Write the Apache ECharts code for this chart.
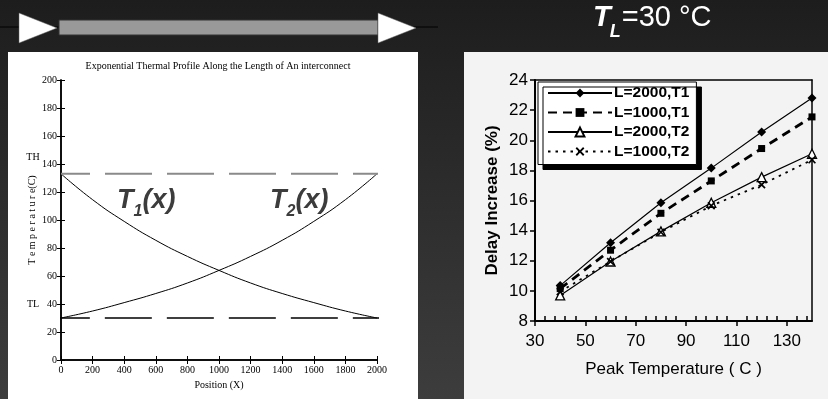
<!DOCTYPE html>
<html>
<head>
<meta charset="utf-8">
<script src="https://cdn.jsdelivr.net/npm/echarts@6/dist/echarts.min.js"></script>
<style>
  html, body { margin: 0; padding: 0; background: #222; }
  #chart { width: 828px; height: 399px; }
</style>
</head>
<body>
<div id="chart"></div>
<script>
// left panel: thermal profile along the wire
const positions = [0, 200, 400, 600, 800, 1000, 1200, 1400, 1600, 1800, 2000];
const t1Profile = [133, 114.5, 99, 85.5, 74, 64, 55, 47.5, 41, 35, 30];
const t2Profile = [30, 35, 41, 47.5, 55, 64, 74, 85.5, 99, 114.5, 133];
const thLevel = 133;
const tlLevel = 30;
const thSpan = [0, 2125];
const tlSpan = [-115, 2125];

// right panel: delay increase vs peak temperature
const peakTemps = [40, 60, 80, 100, 120, 140];
const l2000T1 = [10.35, 13.2, 15.85, 18.15, 20.55, 22.8];
const l1000T1 = [10.15, 12.7, 15.15, 17.3, 19.45, 21.55];
const l2000T2 = [9.7, 11.95, 13.95, 15.85, 17.55, 19.1];
const l1000T2 = [9.95, 11.95, 13.9, 15.65, 17.05, 18.7];
const seriesNames = ['L=2000,T1', 'L=1000,T1', 'L=2000,T2', 'L=1000,T2'];

const chart = echarts.init(document.getElementById('chart'));

function pairs(xs, ys) {
  return xs.map((x, i) => [x, ys[i]]);
}

const serif = '"Liberation Serif", "DejaVu Serif", serif';
const sans = '"Liberation Sans", Arial, sans-serif';
const xMark = 'path://M0,1.5L1.5,0L5,3.5L8.5,0L10,1.5L6.5,5L10,8.5L8.5,10L5,6.5L1.5,10L0,8.5L3.5,5Z';

const leftAxisCommon = {
  type: 'value',
  axisLine: { show: true, lineStyle: { color: '#000', width: 1.5 } },
  splitLine: { show: false },
  axisTick: { show: true, inside: true, length: 4, lineStyle: { color: '#000' } }
};

const bigItalic = { fontFamily: sans, fontSize: 27, fontStyle: 'italic', fontWeight: 'bold', fill: '#3c3c3c', lineHeight: 30 };
const subItalic = { fontFamily: sans, fontSize: 16, fontStyle: 'italic', fontWeight: 'bold', fill: '#3c3c3c', lineHeight: 16, verticalAlign: 'bottom', padding: [0, 0, -4, 0] };

chart.setOption({
  animation: false,
  backgroundColor: new echarts.graphic.LinearGradient(0, 0, 0, 1, [
    { offset: 0, color: '#1d1d1d' },
    { offset: 1, color: '#3d3d3d' }
  ]),
  graphic: [
    { type: 'rect', z: -10, shape: { x: 8, y: 52, width: 410, height: 347 }, style: { fill: '#ffffff' } },
    { type: 'rect', z: -10, shape: { x: 464, y: 52, width: 364, height: 347 }, style: { fill: '#f3f3f3' } },
    // wire with arrows
    { type: 'line', shape: { x1: 0, y1: 27, x2: 438, y2: 27 }, style: { stroke: '#000', lineWidth: 1 } },
    { type: 'rect', shape: { x: 59, y: 20, width: 319, height: 15 }, style: { fill: '#999999', stroke: '#333', lineWidth: 1 } },
    { type: 'polygon', shape: { points: [[19, 13], [57, 28], [19, 43]] }, style: { fill: '#fff', stroke: '#666', lineWidth: 0.5 } },
    { type: 'polygon', shape: { points: [[378, 13], [416, 28], [378, 43]] }, style: { fill: '#fff', stroke: '#666', lineWidth: 0.5 } },
    // T_L = 30 C
    {
      type: 'text', x: 593, y: 2,
      style: {
        text: '{t|T}{s|L}{r|=30 °C}',
        rich: {
          t: { fontFamily: sans, fontSize: 29, fontStyle: 'italic', fontWeight: 'bold', fill: '#fff', lineHeight: 32,
               textShadowColor: '#000', textShadowOffsetX: 2, textShadowOffsetY: 2 },
          s: { fontFamily: sans, fontSize: 18, fontStyle: 'italic', fontWeight: 'bold', fill: '#fff', lineHeight: 18,
               verticalAlign: 'bottom', padding: [0, 1, -7, -1],
               textShadowColor: '#000', textShadowOffsetX: 2, textShadowOffsetY: 2 },
          r: { fontFamily: sans, fontSize: 29, fill: '#fff', lineHeight: 32 }
        }
      }
    },
    // left panel texts
    { type: 'text', x: 218, y: 66, style: { text: 'Exponential Thermal Profile Along the Length of An interconnect', fontFamily: serif, fontSize: 10, fill: '#000', align: 'center', verticalAlign: 'middle' } },
    { type: 'text', x: 33, y: 157, style: { text: 'TH', fontFamily: serif, fontSize: 10, fill: '#000', align: 'center', verticalAlign: 'middle' } },
    { type: 'text', x: 33, y: 304, style: { text: 'TL', fontFamily: serif, fontSize: 10, fill: '#000', align: 'center', verticalAlign: 'middle' } },
    { type: 'text', x: 117, y: 186, style: { text: '{t|T}{s|1}{t|(x)}', rich: { t: bigItalic, s: subItalic } } },
    { type: 'text', x: 270, y: 186, style: { text: '{t|T}{s|2}{t|(x)}', rich: { t: bigItalic, s: subItalic } } }
  ],
  grid: [
    { left: 61, top: 80, right: 451, bottom: 39 },
    { left: 535, top: 80, right: 16, bottom: 78 }
  ],
  legend: {
    orient: 'vertical',
    left: 538,
    top: 82,
    padding: [3, 7, 5, 9],
    itemGap: 3.5,
    itemWidth: 64,
    itemHeight: 11,
    backgroundColor: '#ffffff',
    borderColor: '#000',
    borderWidth: 1,
    shadowColor: '#000',
    shadowBlur: 0,
    shadowOffsetX: 5,
    shadowOffsetY: 5,
    textStyle: { fontFamily: sans, fontSize: 15.5, fontWeight: 'bold', color: '#000', padding: [0, 0, 0, -3] },
    data: seriesNames
  },
  xAxis: [
    Object.assign({}, leftAxisCommon, {
      gridIndex: 0, min: 0, max: 2000, interval: 200, position: 'bottom',
      name: 'Position (X)', nameLocation: 'middle', nameGap: 17,
      nameTextStyle: { fontFamily: serif, fontSize: 10, color: '#000' },
      axisLabel: { fontFamily: serif, fontSize: 10, color: '#000', margin: 5, formatter: v => String(v) }
    }),
    Object.assign({}, leftAxisCommon, {
      gridIndex: 0, min: 0, max: 2000, interval: 200, position: 'top',
      axisLabel: { show: false }
    }),
    {
      type: 'value', gridIndex: 1, min: 30, max: 140, interval: 20, position: 'bottom',
      name: 'Peak Temperature ( C )', nameLocation: 'middle', nameGap: 40,
      nameTextStyle: { fontFamily: sans, fontSize: 17, color: '#000' },
      axisLine: { show: true, lineStyle: { color: '#000', width: 2 } },
      axisTick: { show: true, inside: false, length: 5, lineStyle: { color: '#000', width: 1.5 } },
      splitLine: { show: false },
      axisLabel: { fontFamily: sans, fontSize: 17, color: '#000', margin: 12, showMaxLabel: false }
    },
    {
      type: 'value', gridIndex: 1, min: 30, max: 140, interval: 20, position: 'bottom',
      axisLine: { show: false },
      axisTick: { show: false, inside: true },
      minorTick: { show: true, splitNumber: 5, length: 5, lineStyle: { color: '#000', width: 1.5 } },
      axisLabel: { show: false },
      splitLine: { show: false }
    },
    {
      type: 'value', gridIndex: 1, min: 30, max: 140, position: 'top',
      axisLine: { show: true, lineStyle: { color: '#000', width: 1.5 } },
      axisTick: { show: false }, axisLabel: { show: false }, splitLine: { show: false }
    }
  ],
  yAxis: [
    Object.assign({}, leftAxisCommon, {
      gridIndex: 0, min: 0, max: 200, interval: 20, position: 'left',
      name: 'T e m p e r a t u r e(C)', nameLocation: 'middle', nameGap: 24,
      nameTextStyle: { fontFamily: serif, fontSize: 10, color: '#000' },
      axisLabel: { fontFamily: serif, fontSize: 10, color: '#000', margin: 4 }
    }),
    Object.assign({}, leftAxisCommon, {
      gridIndex: 0, min: 0, max: 200, interval: 20, position: 'right',
      axisLabel: { show: false }
    }),
    {
      type: 'value', gridIndex: 1, min: 8, max: 24, interval: 2, position: 'left',
      name: 'Delay Increase (%)', nameLocation: 'middle', nameGap: 34,
      nameTextStyle: { fontFamily: sans, fontSize: 17, fontWeight: 'bold', color: '#000' },
      axisLine: { show: true, lineStyle: { color: '#000', width: 2 } },
      axisTick: { show: true, inside: false, length: 5, lineStyle: { color: '#000', width: 1.5 } },
      splitLine: { show: false },
      axisLabel: { fontFamily: sans, fontSize: 17, color: '#000', margin: 7 }
    },
    {
      type: 'value', gridIndex: 1, min: 8, max: 24, position: 'right',
      axisLine: { show: true, lineStyle: { color: '#000', width: 1.5 } },
      axisTick: { show: false }, axisLabel: { show: false }, splitLine: { show: false }
    }
  ],
  series: [
    {
      type: 'line', xAxisIndex: 0, yAxisIndex: 0, smooth: true, symbol: 'none',
      lineStyle: { color: '#000', width: 1 }, data: pairs(positions, t1Profile)
    },
    {
      type: 'line', xAxisIndex: 0, yAxisIndex: 0, smooth: true, symbol: 'none',
      lineStyle: { color: '#000', width: 1 }, data: pairs(positions, t2Profile)
    },
    {
      type: 'line', xAxisIndex: 0, yAxisIndex: 0, symbol: 'none', clip: false,
      lineStyle: { color: '#8a8a8a', width: 2, type: [47, 15], dashOffset: 18 },
      data: thSpan.map(x => [x, thLevel])
    },
    {
      type: 'line', xAxisIndex: 0, yAxisIndex: 0, symbol: 'none', clip: false,
      lineStyle: { color: '#000', width: 1.3, type: [47, 15] },
      data: tlSpan.map(x => [x, tlLevel])
    },
    {
      name: seriesNames[0], type: 'line', xAxisIndex: 2, yAxisIndex: 2,
      symbol: 'diamond', symbolSize: 9,
      itemStyle: { color: '#000' }, lineStyle: { color: '#000', width: 1.2 },
      data: pairs(peakTemps, l2000T1)
    },
    {
      name: seriesNames[1], type: 'line', xAxisIndex: 2, yAxisIndex: 2,
      symbol: 'rect', symbolSize: 7,
      itemStyle: { color: '#000' }, lineStyle: { color: '#000', width: 2.8, type: [9, 6] },
      data: pairs(peakTemps, l1000T1)
    },
    {
      name: seriesNames[2], type: 'line', xAxisIndex: 2, yAxisIndex: 2,
      symbol: 'triangle', symbolSize: 9,
      itemStyle: { color: '#fff', borderColor: '#000', borderWidth: 1.3 }, lineStyle: { color: '#000', width: 1.2 },
      data: pairs(peakTemps, l2000T2)
    },
    {
      name: seriesNames[3], type: 'line', xAxisIndex: 2, yAxisIndex: 2,
      symbol: xMark, symbolSize: 8,
      itemStyle: { color: '#000' }, lineStyle: { color: '#000', width: 1.8, type: [2.5, 5] },
      data: pairs(peakTemps, l1000T2)
    }
  ]
});
</script>
</body>
</html>
